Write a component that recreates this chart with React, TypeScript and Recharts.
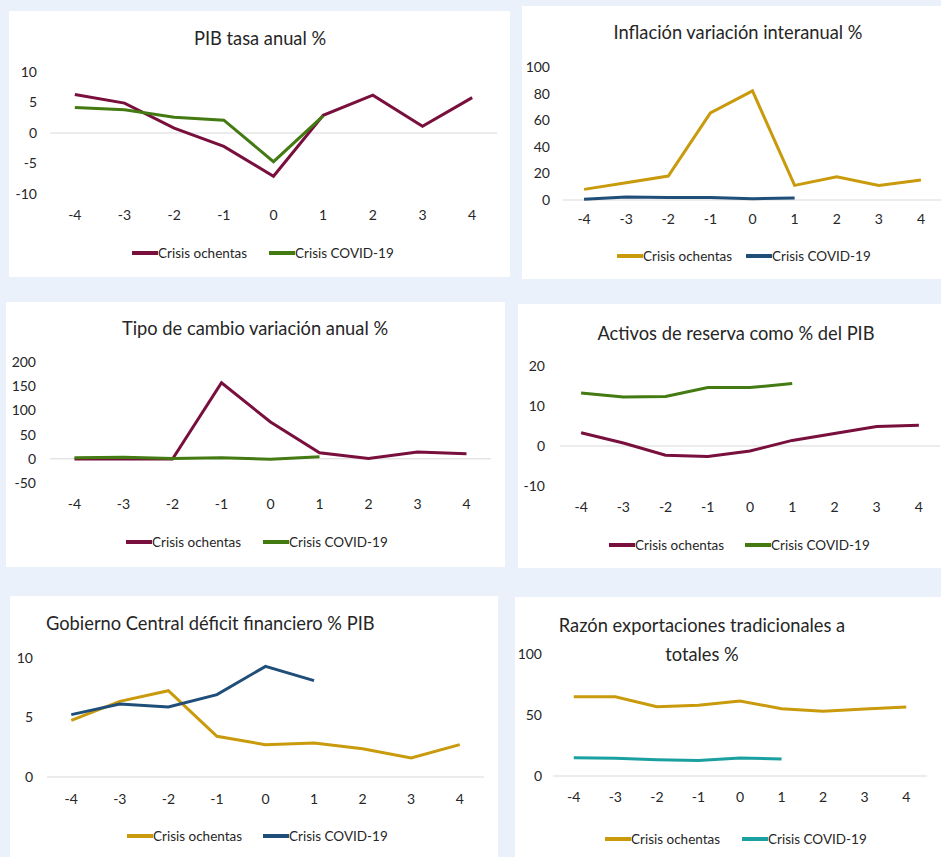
import React from "react";
import { LineChart, Line, XAxis, YAxis, ReferenceLine } from "recharts";

const FONT = "Lato, 'Noto Sans', sans-serif";
const TEXT = "#262626";

const MAROON = "#780F3D";
const GREEN = "#437A12";
const GOLD = "#C99A0C";
const BLUE = "#1F4E79";
const TEAL = "#1AA0A0";

const periods = [-4, -3, -2, -1, 0, 1, 2, 3, 4];
const legendNames = ["Crisis ochentas", "Crisis COVID-19"];

// PIB tasa anual %
const pibOchentas = [6.3, 4.9, 0.8, -2.2, -7.1, 2.9, 6.2, 1.1, 5.8];
const pibCovid = [4.2, 3.8, 2.6, 2.1, -4.7, 2.8];
const pibTicks = [-10, -5, 0, 5, 10];

// Inflación variación interanual %
const inflOchentas = [8, 13, 18, 65.5, 82, 11, 17.5, 11, 15];
const inflCovid = [0.5, 2.2, 1.8, 1.8, 1, 1.5];
const inflTicks = [0, 20, 40, 60, 80, 100];

// Tipo de cambio variación anual %
const tcOchentas = [-0.5, -0.5, -0.5, 157, 76, 12.4, 0.7, 13.8, 10.3];
const tcCovid = [2, 3.4, 0.7, 2, -0.7, 4];
const tcTicks = [-50, 0, 50, 100, 150, 200];

// Activos de reserva como % del PIB
const resOchentas = [3.3, 0.75, -2.3, -2.6, -1.25, 1.4, 3.1, 4.9, 5.2];
const resCovid = [13.25, 12.25, 12.4, 14.6, 14.6, 15.6];
const resTicks = [-10, 0, 10, 20];

// Gobierno Central déficit financiero % PIB
const defOchentas = [4.76, 6.36, 7.25, 3.42, 2.72, 2.86, 2.38, 1.6, 2.72];
const defCovid = [5.24, 6.13, 5.88, 6.92, 9.3, 8.1];
const defTicks = [0, 5, 10];

// Razón exportaciones tradicionales a totales %
const expOchentas = [65, 65, 56.8, 58, 61.5, 55.2, 53, 55, 56.6];
const expCovid = [15, 14.5, 13.4, 12.8, 14.8, 14];
const expTicks = [0, 50, 100];

type PanelProps = {
  box: [number, number, number, number];
  plot: { l: number; r: number; t: number; b: number };
  domain: [number, number];
  ticks: number[];
  yGap: number;
  xGap: number;
  title: string[];
  titleX: number;
  titleY: number;
  titleAlign?: "center" | "left";
  legendY: number;
  legendX: [number, number];
  a: number[];
  b: number[];
  colors: [string, string];
};

const XH = 30;

function Panel(p: PanelProps) {
  const [left, top, width, height] = p.box;
  const data = periods.map((x, i) => ({
    x,
    a: p.a[i] ?? null,
    b: p.b[i] ?? null,
  }));
  const margin = {
    top: p.plot.t - top,
    right: left + width - p.plot.r,
    bottom: top + height - p.plot.b - XH,
    left: 0,
  };
  const tick = { fill: TEXT, fontSize: 14, fontFamily: FONT };
  return (
    <div
      style={{
        position: "absolute",
        left,
        top,
        width,
        height,
        background: "#fff",
      }}
    >
      <LineChart width={width} height={height} data={data} margin={margin}>
        <XAxis
          dataKey="x"
          type="number"
          domain={[-4.5, 4.5]}
          ticks={periods}
          interval={0}
          axisLine={false}
          tickLine={false}
          tickSize={0}
          tickMargin={p.xGap - 8}
          height={XH}
          tick={tick}
        />
        <YAxis
          domain={p.domain}
          ticks={p.ticks}
          interval={0}
          axisLine={false}
          tickLine={false}
          tickSize={0}
          tickMargin={p.yGap}
          width={p.plot.l - left}
          tick={tick}
        />
        <ReferenceLine y={0} stroke="#d9d9d9" strokeWidth={1} />
        <Line
          dataKey="a"
          type="linear"
          stroke={p.colors[0]}
          strokeWidth={3}
          dot={false}
          isAnimationActive={false}
        />
        <Line
          dataKey="b"
          type="linear"
          stroke={p.colors[1]}
          strokeWidth={3}
          dot={false}
          isAnimationActive={false}
        />
      </LineChart>
      {p.title.map((t, i) => (
        <div
          key={t}
          style={{
            position: "absolute",
            top: p.titleY + i * 29 - top - 12,
            left: p.titleAlign === "left" ? p.titleX - left : p.titleX - left - 220,
            width: p.titleAlign === "left" ? undefined : 440,
            textAlign: p.titleAlign === "left" ? "left" : "center",
            fontFamily: FONT,
            fontSize: 18.3,
            lineHeight: "24px",
            color: TEXT,
            whiteSpace: "nowrap",
          }}
        >
          {t}
        </div>
      ))}
      {legendNames.map((name, i) => (
        <div
          key={name}
          style={{
            position: "absolute",
            top: p.legendY - top - 9,
            left: p.legendX[i] - left,
            display: "flex",
            alignItems: "center",
            height: 18,
            fontFamily: FONT,
            fontSize: 13.5,
            color: TEXT,
            whiteSpace: "nowrap",
          }}
        >
          <span
            style={{
              display: "inline-block",
              width: 26,
              height: 3.5,
              background: p.colors[i],
            }}
          />
          <span>{name}</span>
        </div>
      ))}
    </div>
  );
}

export default function App() {
  return (
    <div
      style={{
        position: "absolute",
        left: 0,
        top: 0,
        width: 941,
        height: 857,
        overflow: "hidden",
        background: "#EAF1FA",
      }}
    >
      <Panel
        box={[9, 11, 501, 266]}
        plot={{ l: 50, r: 497, t: 72, b: 194 }}
        domain={[-10, 10]}
        ticks={pibTicks}
        yGap={13}
        xGap={24}
        title={["PIB tasa anual %"]}
        titleX={260}
        titleY={38}
        legendY={253}
        legendX={[132, 269]}
        a={pibOchentas}
        b={pibCovid}
        colors={[MAROON, GREEN]}
      />
      <Panel
        box={[522, 6, 420, 273]}
        plot={{ l: 563, r: 942, t: 67, b: 200 }}
        domain={[0, 100]}
        ticks={inflTicks}
        yGap={13}
        xGap={22}
        title={["Inflación variación interanual %"]}
        titleX={738}
        titleY={32}
        legendY={256}
        legendX={[617, 746]}
        a={inflOchentas}
        b={inflCovid}
        colors={[GOLD, BLUE]}
      />
      <Panel
        box={[6, 302, 499, 265]}
        plot={{ l: 50, r: 491, t: 362, b: 483 }}
        domain={[-50, 200]}
        ticks={tcTicks}
        yGap={14}
        xGap={24}
        title={["Tipo de cambio variación anual %"]}
        titleX={255}
        titleY={328}
        legendY={542}
        legendX={[126, 263]}
        a={tcOchentas}
        b={tcCovid}
        colors={[MAROON, GREEN]}
      />
      <Panel
        box={[518, 304, 424, 264]}
        plot={{ l: 560, r: 940, t: 366, b: 486 }}
        domain={[-10, 20]}
        ticks={resTicks}
        yGap={15}
        xGap={24}
        title={["Activos de reserva como % del PIB"]}
        titleX={736}
        titleY={333}
        legendY={545}
        legendX={[609, 745]}
        a={resOchentas}
        b={resCovid}
        colors={[MAROON, GREEN]}
      />
      <Panel
        box={[10, 596, 488, 262]}
        plot={{ l: 47, r: 484, t: 658, b: 777 }}
        domain={[0, 10]}
        ticks={defTicks}
        yGap={14}
        xGap={25}
        title={["Gobierno Central déficit financiero % PIB"]}
        titleX={46}
        titleY={623}
        titleAlign="left"
        legendY={836}
        legendX={[127, 263]}
        a={defOchentas}
        b={defCovid}
        colors={[GOLD, BLUE]}
      />
      <Panel
        box={[515, 597, 426, 261]}
        plot={{ l: 553, r: 927, t: 654, b: 776 }}
        domain={[0, 100]}
        ticks={expTicks}
        yGap={11}
        xGap={24}
        title={["Razón exportaciones tradicionales a", "totales %"]}
        titleX={702}
        titleY={625}
        legendY={839}
        legendX={[605, 742]}
        a={expOchentas}
        b={expCovid}
        colors={[GOLD, TEAL]}
      />
    </div>
  );
}
